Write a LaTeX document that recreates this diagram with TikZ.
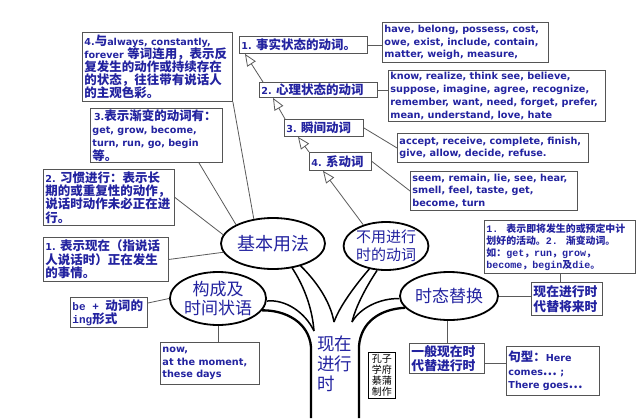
\documentclass[tikz,border=0pt]{standalone}
\usepackage{fontspec}
\usetikzlibrary{arrows.meta,calc,shapes.geometric}
\setmainfont{DejaVu Sans}
\newfontfamily\latf{DejaVu Sans}
\newfontfamily\monof{Liberation Mono}
\newfontfamily\cjkA{Noto Sans CJK SC}[Scale=1.3]
\newfontfamily\cjkB{Noto Sans CJK SC}[Scale=1.14]
\newfontfamily\cjkM{Noto Sans CJK SC}[Scale=0.99]
\newfontfamily\cjkN{Noto Sans CJK SC}
\newXeTeXintercharclass\zhcls
\newcount\zhc
\zhc="4E00 \loop\XeTeXcharclass\zhc=\zhcls\ifnum\zhc<"9FFF\advance\zhc by 1 \repeat
\zhc="3000 \loop\XeTeXcharclass\zhc=\zhcls\ifnum\zhc<"303F\advance\zhc by 1 \repeat
\zhc="FF00 \loop\XeTeXcharclass\zhc=\zhcls\ifnum\zhc<"FFEF\advance\zhc by 1 \repeat
\XeTeXcharclass"2026=\zhcls
\gdef\cjkcur{\cjkA}\gdef\latcur{\latf}
\XeTeXinterchartoks 0 \zhcls = {\cjkcur}
\XeTeXinterchartoks 4095 \zhcls = {\cjkcur}
\XeTeXinterchartoks \zhcls 0 = {\latcur}
\XeTeXinterchartoks \zhcls 4095 = {\latcur}
\XeTeXinterchartokenstate=1
\newcommand\setA{\gdef\cjkcur{\cjkA}\gdef\latcur{\latf}\latf}
\newcommand\setM{\gdef\cjkcur{\cjkM}\gdef\latcur{\monof}\monof}
\newcommand\setBM{\gdef\cjkcur{\cjkB}\gdef\latcur{\monof}\monof}
\newcommand\setN{\gdef\cjkcur{\cjkN}\gdef\latcur{\latf}\latf}
\definecolor{txtblue}{RGB}{35,35,160}
\definecolor{boxgray}{RGB}{85,85,85}
\definecolor{linegray}{RGB}{90,90,90}
\tikzset{
 tbox/.style={draw=boxgray, line width=0.9pt, anchor=north west, inner xsep=2pt, inner ysep=0pt, align=left, text=txtblue},
 mixf/.style={font=\fontsize{9.6}{13.3}\selectfont\bfseries\setA},
 engf/.style={font=\fontsize{9.7}{12.8}\selectfont\bfseries\setA},
 bef/.style={font=\fontsize{11}{13}\selectfont\bfseries\setBM},
 monf/.style={font=\fontsize{10}{12}\selectfont\bfseries\setM},
 bigf/.style={font=\fontsize{12.8}{14.5}\selectfont\bfseries\setN},
 ell/.style={ellipse, draw=black, fill=white, line width=1.8pt, inner sep=0pt, align=center, text=txtblue},
 conn/.style={draw=linegray, line width=0.8pt},
 arr/.style={draw=linegray, line width=0.8pt, -{Triangle[open, length=12pt, width=10pt, line width=0.8pt]}},
 branch/.style={draw=black, line width=1.5pt},
 trunkline/.style={draw=black, line width=2.3pt},
}
\begin{document}
\lineskiplimit=-20pt\lineskip=0pt
\begin{tikzpicture}[x=1pt,y=-1pt]
\useasboundingbox (0,0) rectangle (644,418);
\fill[white] (0,0) rectangle (644,418);

% ellipses
\node[ell, minimum width=104, minimum height=51, font=\fontsize{18}{20}\selectfont\setN] (E1) at (273,243.5) {基本用法};
\node[ell, minimum width=82, minimum height=48, font=\fontsize{15}{18}\selectfont\setN] (E2) at (386,246) {不用进行\\时的动词};
\node[ell, minimum width=94, minimum height=53, font=\fontsize{17}{18.5}\selectfont\setN] (E3) at (218,298.5) {构成及\\时间状语};
\node[ell, minimum width=98, minimum height=48, font=\fontsize{17}{20}\selectfont\setN] (E4) at (449,296) {时态替换};

% tree
\coordinate (v1) at (314,331);
\coordinate (v2) at (334,322);
\coordinate (v3) at (352,322);
\coordinate (tl) at (311,347);
\coordinate (tlb) at (311,418);
\coordinate (tr) at (359,346);
\coordinate (trb) at (359,418);
\draw[branch] (E3.-3) .. controls (285,299) and (305,312) .. (v1);
\draw[branch] (E1.-52) .. controls (302,283) and (312,305) .. (v1);
\draw[branch] (E1.-39) .. controls (315,280) and (330,300) .. (v2);
\draw[branch] (E2.234) .. controls (358,282) and (340,305) .. (v2);
\draw[branch] (E2.250) .. controls (368,284) and (356,305) .. (v3);
\draw[branch] (E4.183) .. controls (380,298) and (360,308) .. (v3);
\draw[trunkline] (E3.-15) .. controls (285,310) and (309,322) .. (tl) -- (tlb);
\draw[trunkline] (E4.195) .. controls (380,309) and (361,322) .. (tr) -- (trb);

\node[anchor=north west, inner sep=0pt, align=left, text=txtblue, font=\fontsize{17.5}{20}\selectfont\setN] (TR) at (317,336) {现在\\进行\\时};
\node[draw=black, line width=0.7pt, anchor=north west, minimum width=27, minimum height=46, inner sep=0pt, align=center, text=black, font=\fontsize{10}{11}\selectfont\setN] (KZ) at (368,352) {孔子\\学府\\綦蒲\\制作};

% top boxes
\node[tbox,minimum width=150,minimum height=69,font=\fontsize{9.6}{13}\selectfont\bfseries\setA] (B4) at (82,32) {\makebox[146pt][l]{4.与always, constantly,}\\forever 等词连用，表示反\\复发生的动作或持续存在\\的状态，往往带有说话人\\的主观色彩。};
\node[tbox,mixf,minimum width=128,minimum height=17] (F1) at (239,36) {\makebox[124pt][l]{1. 事实状态的动词。}};
\node[tbox,mixf,minimum width=118,minimum height=15] (F2) at (259,82) {\makebox[114pt][l]{2. 心理状态的动词}};
\node[tbox,mixf,minimum width=79,minimum height=17] (F3) at (284,119) {\makebox[75pt][l]{3. 瞬间动词}};
\node[tbox,mixf,minimum width=62,minimum height=18] (F4) at (309,152) {\makebox[58pt][l]{4. 系动词}};
\node[tbox,engf,minimum width=166,minimum height=40] (FH) at (382,22) {\makebox[162pt][l]{have, belong, possess, cost,}\\owe, exist, include, contain,\\matter, weigh, measure,};
\node[tbox,engf,minimum width=217,minimum height=51] (FK) at (388,70) {\makebox[213pt][l]{know, realize, think see, believe,}\\suppose, imagine, agree, recognize,\\remember, want, need, forget, prefer,\\mean, understand, love, hate};
\node[tbox,engf,minimum width=191,minimum height=29] (FA) at (397,133) {\makebox[187pt][l]{accept, receive, complete, finish,}\\give, allow, decide, refuse.};
\node[tbox,engf,minimum width=167,minimum height=39] (FS) at (410,171) {\makebox[163pt][l]{seem, remain, lie, see, hear,}\\smell, feel, taste, get,\\become, turn};

% left boxes
\node[tbox,mixf,minimum width=132,minimum height=54] (B3) at (90,108) {\makebox[128pt][l]{\,3.表示渐变的动词有：}\\get, grow, become,\\turn, run, go, begin\\等。};
\node[tbox,mixf,minimum width=131,minimum height=56] (B2) at (43,169) {\makebox[127pt][l]{2. 习惯进行：表示长}\\期的或重复性的动作，\\说话时动作未必正在进\\行。};
\node[tbox,mixf,minimum width=125,minimum height=44] (B1) at (43,237) {\makebox[121pt][l]{1. 表示现在（指说话}\\人说话时）正在发生\\的事情。};
\node[tbox,bef,minimum width=77,minimum height=30] (BE) at (70,297) {\makebox[73pt][l]{be + 动词的}\\ing形式};
\node[tbox,engf,minimum width=99,minimum height=42] (BN) at (160,342) {\makebox[95pt][l]{now,}\\at the moment,\\these days};

% right boxes
\node[tbox,monf,minimum width=151,minimum height=53] (T1) at (484,220) {\makebox[147pt][l]{1. 表示即将发生的或预定中计}\\划好的活动。2. 渐变动词。\\如：get，run，grow，\\become，begin及die。};
\node[tbox,bigf,minimum width=71,minimum height=33] (T2) at (531,282) {\makebox[67pt][l]{现在进行时}\\代替将来时};
\node[tbox,bigf,minimum width=75,minimum height=30] (T3) at (409,343) {\makebox[71pt][l]{一般现在时}\\代替进行时};
\node[tbox,mixf,minimum width=93,minimum height=49] (T4) at (506,346) {\makebox[89pt][l]{句型：Here}\\comes… ;\\There goes…};

% connectors
\draw[conn] (B4.south east) -- (E1.128);
\draw[conn] ($(B3.south west)!0.82!(B3.south east)$) -- (E1.153);
\draw[conn] (B2.east) -- (E1.170);
\draw[conn] (B1.east) -- (E1.190);
\draw[conn] (F1.east) -- (F1.east -| FH.west);
\draw[conn] (F2.east) -- (F2.east -| FK.west);
\draw[conn] (F3.east) -- (FA.west);
\draw[conn] (F4.east) -- (FS.west);
\coordinate (ber) at ($(BE.north east)+(0,6)$);
\draw[conn] (ber) -- (E3.west);
\draw[conn] (E3.south) -- (E3.south |- BN.north);
\draw[conn] (E4.east) -- (E4.east -| T2.west);
\draw[conn] (T1.south) -- (T1.south |- T2.north);
\draw[conn] (T3.north) -- (T3.north |- E4.south);
\coordinate (t3r) at ($(T3.east)+(0,5)$);
\draw[conn] (t3r) -- (t3r -| T4.west);

% arrows
\draw[arr] ($(F2.north west)+(4,0)$) -- ($(F1.south west)+(6,0)$);
\draw[arr] ($(F3.north west)+(1,0)$) -- ($(F2.south west)+(14,0)$);
\draw[arr] (F4.north west) -- ($(F3.south west)+(14,0)$);
\draw[arr] (E2.137) -- ($(F4.south west)+(14,0)$);
\end{tikzpicture}
\end{document}
